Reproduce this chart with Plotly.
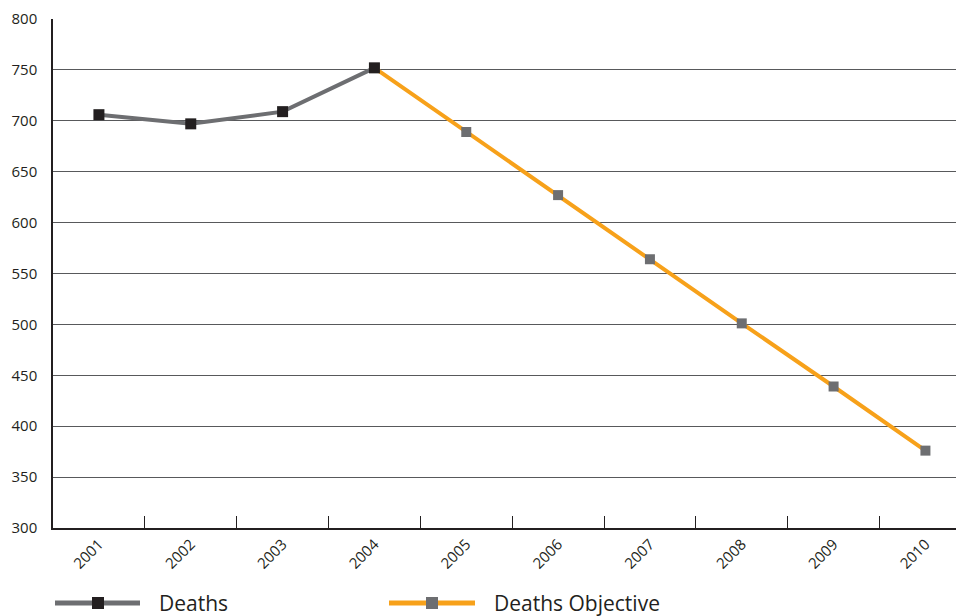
import plotly.graph_objects as go

years = ["2001", "2002", "2003", "2004", "2005", "2006", "2007", "2008", "2009", "2010"]
deaths_years = ["2001", "2002", "2003", "2004"]
deaths = [706, 697, 709, 752]
objective_years = ["2004", "2005", "2006", "2007", "2008", "2009", "2010"]
objective = [752, 689, 627, 564, 501, 439, 376]
y_ticks = [300, 350, 400, 450, 500, 550, 600, 650, 700, 750, 800]

TXT = "#231f20"
GRAY = "#6d6e71"
ORANGE = "#f7a11a"
FONT = "Open Sans"

fig = go.Figure()
fig.add_trace(go.Scatter(
    x=objective_years, y=objective, mode="lines+markers", name="Deaths Objective",
    line=dict(color=ORANGE, width=4),
    marker=dict(symbol="square", size=10, color=GRAY),
    showlegend=False,
))
fig.add_trace(go.Scatter(
    x=deaths_years, y=deaths, mode="lines+markers", name="Deaths",
    line=dict(color=GRAY, width=4),
    marker=dict(symbol="square", size=11, color=TXT),
    showlegend=False,
))

# page has an 8px body margin: figure is drawn from (8, 8)
fig.update_layout(
    width=956, height=608,
    margin=dict(l=45, r=0, t=11, b=88),
    paper_bgcolor="white", plot_bgcolor="white",
    font=dict(family=FONT, color=TXT, size=15),
    xaxis=dict(
        type="category", categoryorder="array", categoryarray=years,
        range=[-0.5, 9.42], tickangle=-45,
        ticks="inside", tickson="boundaries", ticklen=12, tickcolor=TXT, tickwidth=1,
        showline=True, linecolor=TXT, linewidth=1.5,
        showgrid=False, zeroline=False,
        tickfont=dict(size=15, color=TXT),
    ),
    yaxis=dict(
        range=[300, 800], tickvals=y_ticks,
        showgrid=True, gridcolor="#58595b", gridwidth=1,
        showline=True, linecolor=TXT, linewidth=1.5,
        ticks="", zeroline=False,
        tickfont=dict(size=15, color=TXT),
        ticklabelstandoff=11,
    ),
)

# Manual legend
legend_items = [
    (55, 140, 98, GRAY, TXT, 157, "Deaths"),
    (389, 475, 432, ORANGE, GRAY, 492, "Deaths Objective"),
]
ly = 603
for x0, x1, xm, lc, mc, xt, label in legend_items:
    fig.add_shape(type="line", xref="paper", yref="paper",
                  x0=(x0 - 53) / 911, x1=(x1 - 53) / 911,
                  y0=(528 - ly) / 509, y1=(528 - ly) / 509,
                  line=dict(color=lc, width=5))
    fig.add_shape(type="rect", xref="paper", yref="paper",
                  x0=(xm - 6 - 53) / 911, x1=(xm + 6 - 53) / 911,
                  y0=(528 - ly - 6) / 509, y1=(528 - ly + 6) / 509,
                  fillcolor=mc, line=dict(width=0))
    fig.add_annotation(xref="paper", yref="paper",
                       x=(xt - 53) / 911, y=(528 - ly) / 509,
                       text=label, showarrow=False, xanchor="left", yanchor="middle",
                       font=dict(size=21, color=TXT, family=FONT))

fig.write_html("out.html")
